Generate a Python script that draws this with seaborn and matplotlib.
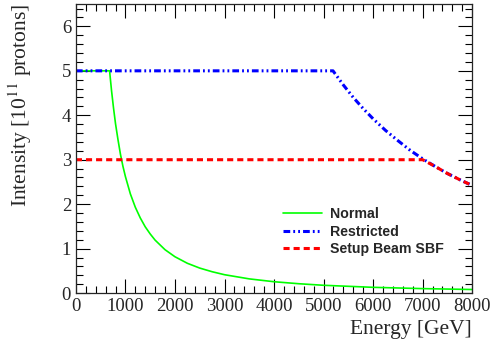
import matplotlib
matplotlib.use("Agg")
import matplotlib.pyplot as plt
from matplotlib.ticker import MultipleLocator
import seaborn as sns

# values
energy_normal = [0, 680, 720, 760, 800, 850, 900, 950, 1000, 1100, 1200, 1300,
                 1400, 1500, 1600, 1800, 2000, 2250, 2500, 2750, 3000, 3500,
                 4000, 4500, 5000, 6000, 7000, 8000]
int_normal = [5.0, 5.0, 4.55, 4.16, 3.81, 3.45, 3.12, 2.85, 2.62, 2.23, 1.93,
              1.69, 1.49, 1.33, 1.19, 0.975, 0.817, 0.67, 0.562, 0.48, 0.413,
              0.319, 0.255, 0.21, 0.175, 0.129, 0.10, 0.08]

energy_restr = [0, 5190, 5400, 5600, 5800, 6000, 6250, 6500, 6750, 7000,
                7250, 7500, 7750, 8000]
int_restr = [5.0, 5.0, 4.68, 4.40, 4.15, 3.92, 3.66, 3.43, 3.21, 3.02,
             2.85, 2.69, 2.55, 2.42]

energy_sbf = [0, 6950, 7000, 7250, 7500, 7750, 8000]
int_sbf = [3.0, 3.0, 3.0, 2.85, 2.69, 2.55, 2.42]

sns.set_style("ticks")
plt.rcParams['font.family'] = ['Liberation Serif', 'DejaVu Serif']
plt.rcParams['mathtext.fontset'] = 'stix'

fig = plt.figure(figsize=(4.96, 3.46), dpi=100)
ax = fig.add_axes([0.153, 0.153, 0.799, 0.835])

sns.lineplot(x=energy_normal, y=int_normal, ax=ax, color='#00ff00', lw=1.2,
             label='Normal')
sns.lineplot(x=energy_restr, y=int_restr, ax=ax, color='#0000ff', lw=2.2,
             linestyle=(0, (2.2, 1, 0.6, 1, 0.6, 1)), label='Restricted')
sns.lineplot(x=energy_sbf, y=int_sbf, ax=ax, color='#ff0000', lw=2.2,
             linestyle=(0, (2, 1.3)), label='Setup Beam SBF')

ax.set_xlim(0, 8000)
ax.set_ylim(0, 6.5)
ax.xaxis.set_major_locator(MultipleLocator(1000))
ax.xaxis.set_minor_locator(MultipleLocator(200))
ax.yaxis.set_major_locator(MultipleLocator(1))
ax.yaxis.set_minor_locator(MultipleLocator(0.2))
ax.tick_params(which='both', direction='in', top=True, right=True,
               labelsize=13.5, width=0.8, color='black')
ax.tick_params(which='major', length=10)
ax.tick_params(which='minor', length=5)
for s in ax.spines.values():
    s.set_linewidth(0.9)

ax.set_xlabel('Energy [GeV]', fontsize=15.5, loc='right')
ax.set_ylabel('Intensity [10$^{11}$ protons]', fontsize=15.5, loc='top')
ax.yaxis.set_label_coords(-0.106, 1.0)

leg = ax.legend(loc='lower right', bbox_to_anchor=(0.96, 0.083), frameon=False,
                prop={'family': 'Liberation Sans', 'weight': 'bold', 'size': 10.2},
                handlelength=2.75, handletextpad=0.56, labelspacing=0.27)

fig.savefig('out.png', dpi=100)
